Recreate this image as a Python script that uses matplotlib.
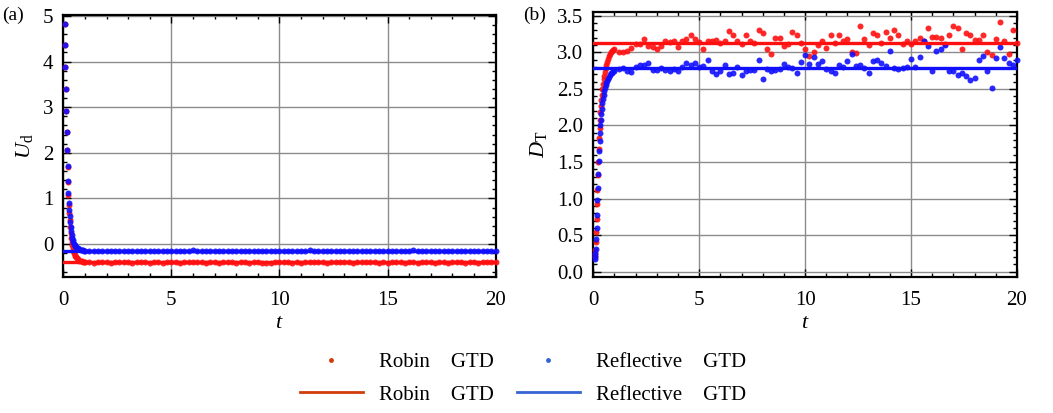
import numpy as np
import matplotlib
matplotlib.use("Agg")
import matplotlib.pyplot as plt
from matplotlib.lines import Line2D
from matplotlib.ticker import MultipleLocator, FormatStrFormatter

plt.rcParams['font.family'] = ['Liberation Serif', 'DejaVu Serif']
plt.rcParams['mathtext.fontset'] = 'custom'
plt.rcParams['mathtext.rm'] = 'Liberation Serif'
plt.rcParams['mathtext.it'] = 'Liberation Serif:italic'

# sampling times: fine grid during the transient, then every 0.2
t_early = [0.06, 0.08, 0.10, 0.12, 0.14, 0.16, 0.18, 0.20, 0.22, 0.24, 0.26,
           0.28, 0.30, 0.32, 0.34, 0.36, 0.38, 0.40, 0.43, 0.46, 0.49, 0.52,
           0.55, 0.58, 0.62, 0.66, 0.70, 0.75, 0.80, 0.85, 0.90, 0.95, 1.00]
t_late = np.round(np.arange(1.2, 20.05, 0.2), 1)

# (a) U_d
ud_robin_early = [4.82, 4.36, 3.89, 3.39, 2.92, 2.46, 2.06, 1.70, 1.36, 1.08, 0.86,
                  0.68, 0.52, 0.38, 0.25, 0.14, 0.05, -0.02, -0.09, -0.15, -0.19, -0.23,
                  -0.26, -0.29, -0.31, -0.33, -0.35, -0.36, -0.37, -0.38, -0.39, -0.39, -0.40]
ud_refl_early = [4.82, 4.36, 3.89, 3.39, 2.92, 2.46, 2.06, 1.72, 1.39, 1.13, 0.91,
                 0.75, 0.61, 0.49, 0.38, 0.28, 0.20, 0.14, 0.08, 0.04, 0.01, -0.02,
                 -0.04, -0.06, -0.08, -0.09, -0.10, -0.11, -0.12, -0.13, -0.13, -0.14, -0.14]
ud_robin_late = [-0.40, -0.41, -0.40, -0.39,
                 -0.40, -0.41, -0.40, -0.40, -0.39,
                 -0.40, -0.41, -0.40, -0.39, -0.40,
                 -0.41, -0.40, -0.40, -0.41, -0.40,
                 -0.39, -0.40, -0.41, -0.40, -0.40,
                 -0.40, -0.39, -0.40, -0.41, -0.40,
                 -0.40, -0.41, -0.40, -0.39, -0.40,
                 -0.41, -0.40, -0.40, -0.41, -0.40,
                 -0.40, -0.41, -0.42, -0.41, -0.40,
                 -0.40, -0.39, -0.40, -0.41, -0.40,
                 -0.41, -0.40, -0.40, -0.39, -0.40,
                 -0.40, -0.41, -0.40, -0.40, -0.39,
                 -0.40, -0.40, -0.41, -0.40, -0.40,
                 -0.39, -0.40, -0.40, -0.41, -0.40,
                 -0.41, -0.40, -0.39, -0.40, -0.41,
                 -0.40, -0.40, -0.41, -0.40, -0.39,
                 -0.40, -0.41, -0.40, -0.40, -0.41,
                 -0.40, -0.40, -0.39, -0.41, -0.40,
                 -0.40, -0.41, -0.40, -0.40, -0.40,
                 -0.40]
ud_refl_late = [-0.14, -0.15, -0.14, -0.15,
                -0.15, -0.16, -0.15, -0.14, -0.15,
                -0.15, -0.14, -0.15, -0.16, -0.15,
                -0.14, -0.15, -0.16, -0.15, -0.15,
                -0.16, -0.15, -0.15, -0.14, -0.15,
                -0.13, -0.14, -0.15, -0.15, -0.16,
                -0.15, -0.14, -0.15, -0.15, -0.14,
                -0.15, -0.16, -0.15, -0.14, -0.15,
                -0.14, -0.15, -0.15, -0.16, -0.14,
                -0.15, -0.15, -0.14, -0.15, -0.16,
                -0.15, -0.14, -0.13, -0.15, -0.15,
                -0.16, -0.15, -0.14, -0.15, -0.15,
                -0.14, -0.15, -0.16, -0.15, -0.14,
                -0.15, -0.15, -0.14, -0.16, -0.15,
                -0.15, -0.14, -0.15, -0.15, -0.16,
                -0.14, -0.13, -0.14, -0.15, -0.15,
                -0.16, -0.15, -0.14, -0.15, -0.14,
                -0.15, -0.15, -0.14, -0.15, -0.14,
                -0.15, -0.14, -0.15, -0.14, -0.15,
                -0.15]
ud_robin_level = -0.40
ud_refl_level = -0.15

# (b) D_T
dt_robin_early = [0.20, 0.24, 0.30, 0.40, 0.55, 0.72, 0.92, 1.12, 1.32, 1.50, 1.68,
                  1.83, 1.97, 2.08, 2.18, 2.27, 2.35, 2.42, 2.50, 2.57, 2.63, 2.68,
                  2.73, 2.78, 2.83, 2.87, 2.91, 2.95, 2.98, 3.00, 3.02, 3.03, 3.04]
dt_refl_early = [0.18, 0.21, 0.25, 0.31, 0.45, 0.60, 0.78, 0.98, 1.15, 1.33, 1.51,
                 1.65, 1.79, 1.90, 2.00, 2.08, 2.16, 2.23, 2.30, 2.36, 2.41, 2.47,
                 2.51, 2.55, 2.58, 2.61, 2.64, 2.66, 2.69, 2.71, 2.72, 2.74, 2.75]
dt_robin_late = [3.01, 3.00, 3.02, 3.06,
                 3.12, 3.11, 3.18, 3.09, 3.07,
                 3.05, 3.08, 3.16, 3.14, 3.15,
                 3.07, 3.15, 3.18, 3.23, 3.18,
                 3.14, 3.04, 3.15, 3.15, 3.17,
                 3.13, 3.15, 3.29, 3.24, 3.15,
                 3.11, 3.24, 3.15, 3.13, 3.31,
                 3.27, 3.04, 2.97, 3.20, 3.19,
                 3.08, 3.11, 3.28, 3.24, 3.13,
                 3.04, 2.95, 3.00, 3.10, 3.16,
                 3.06, 3.24, 3.13, 3.24, 3.15,
                 3.18, 3.00, 2.99, 3.36, 3.18,
                 3.10, 3.26, 3.24, 3.13, 3.28,
                 3.19, 3.30, 3.24, 3.12, 3.16,
                 3.11, 3.15, 3.20, 3.15, 3.33,
                 3.21, 3.21, 3.19, 3.11, 3.24,
                 3.36, 3.33, 3.04, 3.27, 3.24,
                 3.17, 3.17, 3.24, 3.01, 2.96,
                 3.18, 3.42, 3.15, 2.98, 3.30,
                 3.13]
dt_refl_late = [2.77, 2.78, 2.74, 2.73,
                2.80, 2.83, 2.82, 2.85, 2.76,
                2.76, 2.78, 2.76, 2.74, 2.77,
                2.75, 2.80, 2.85, 2.82, 2.86,
                2.80, 2.81, 2.90, 2.75, 2.70,
                2.74, 2.82, 2.70, 2.71, 2.80,
                2.69, 2.74, 2.76, 2.76, 2.89,
                2.63, 2.77, 2.74, 2.76, 2.77,
                2.84, 2.80, 2.78, 2.72, 2.87,
                2.96, 2.84, 2.94, 2.84, 2.88,
                2.77, 2.75, 2.72, 2.82, 2.80,
                2.88, 2.97, 2.81, 2.82, 2.78,
                2.72, 2.88, 2.89, 2.86, 2.81,
                3.02, 2.79, 2.77, 2.78, 2.80,
                2.91, 2.80, 2.94, 3.16, 3.09,
                2.75, 3.02, 3.04, 3.10, 2.75,
                2.75, 2.69, 2.71, 2.67, 2.62,
                2.65, 2.89, 2.95, 2.75, 2.51,
                2.92, 3.07, 2.92, 2.85, 2.82,
                2.89]
dt_robin_level = 3.13
dt_refl_level = 2.79

pt_red = '#ff1010'
pt_blue = '#1010ff'
leg_red = '#d23c0c'
leg_blue = '#3563d4'

fig = plt.figure(figsize=(10.53, 4.13), dpi=100)
ax1 = fig.add_axes([0.0601, 0.3293, 0.4106, 0.6344])
ax2 = fig.add_axes([0.5634, 0.3300, 0.4024, 0.6417])

panels = [
    (ax1, ud_robin_early, ud_robin_late, ud_refl_early, ud_refl_late,
     ud_robin_level, ud_refl_level, r'$U_{\rm d}$', (-0.72, 5.02), 1, 0.2),
    (ax2, dt_robin_early, dt_robin_late, dt_refl_early, dt_refl_late,
     dt_robin_level, dt_refl_level, r'$D_{\rm T}$', (-0.068, 3.555), 0.5, 0.1),
]

for ax, re, rl, be, bl, rlev, blev, ylab, ylim, ymaj, ymin in panels:
    t_all = np.concatenate([t_early, t_late])
    ax.plot(t_all, np.concatenate([re, rl]), 'o', color=pt_red, ms=4.3, mew=0,
            alpha=0.9, zorder=3, clip_on=False)
    ax.plot(t_all, np.concatenate([be, bl]), 'o', color=pt_blue, ms=4.3, mew=0,
            alpha=0.9, zorder=3, clip_on=False)
    ax.axhline(rlev, color=pt_red, lw=2.4, zorder=4)
    ax.axhline(blev, color=pt_blue, lw=2.4, zorder=4)

    ax.set_xlim(0, 20)
    ax.set_ylim(*ylim)
    ax.xaxis.set_major_locator(MultipleLocator(5))
    ax.xaxis.set_minor_locator(MultipleLocator(1))
    ax.yaxis.set_major_locator(MultipleLocator(ymaj))
    ax.yaxis.set_minor_locator(MultipleLocator(ymin))
    if ymaj == 0.5:
        ax.yaxis.set_major_formatter(FormatStrFormatter('%.1f'))
    ax.grid(True, which='major', color='#8c8c8c', lw=1.0, zorder=0)
    ax.set_axisbelow(True)
    ax.tick_params(which='both', direction='in', top=True, right=True,
                   labelsize=15, width=1.0, colors='black')
    ax.tick_params(which='major', length=5.5)
    ax.tick_params(which='minor', length=3)
    ax.tick_params(axis='x', which='major', pad=10)
    ax.tick_params(axis='y', which='major', pad=7)
    for sp in ax.spines.values():
        sp.set_linewidth(1.6)
    ax.set_xlabel(r'$t$', fontsize=16, labelpad=3)
    ax.set_ylabel(ylab, fontsize=16, labelpad=6)

fig.text(0.002, 0.985, '(a)', fontsize=14, va='top', ha='left')
fig.text(0.497, 0.985, '(b)', fontsize=14, va='top', ha='left')

handles = [
    Line2D([], [], ls='none', marker='o', ms=3.5, mew=0, color=leg_red),
    Line2D([], [], color=leg_red, lw=2.0),
    Line2D([], [], ls='none', marker='o', ms=3.5, mew=0, color=leg_blue),
    Line2D([], [], color=leg_blue, lw=2.0),
]
labels = ['Robin    GTD', 'Robin    GTD', 'Reflective    GTD', 'Reflective    GTD']
fig.legend(handles, labels, loc='center', bbox_to_anchor=(0.497, 0.083), ncol=2,
           frameon=False, fontsize=15, handlelength=3.0, handletextpad=0.8,
           columnspacing=1.1, labelspacing=0.6)

fig.savefig('out.png', dpi=100)
